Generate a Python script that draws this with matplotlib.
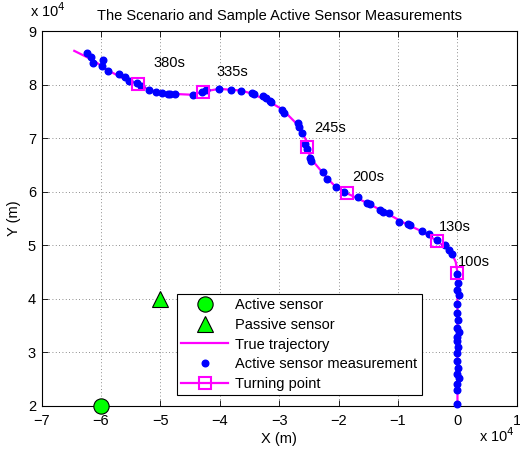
import matplotlib
matplotlib.use("Agg")
import matplotlib.pyplot as plt
from matplotlib.lines import Line2D
import numpy as np

plt.rcParams['font.family'] = ['Liberation Sans', 'DejaVu Sans']

# all positions in units of 1e4 m
traj_x = [-6.45, -6.14, -5.89, -5.58, -5.37, -5.19, -4.85, -4.46, -4.28, -4.01, -3.65,
          -3.45, -3.17, -2.95, -2.69, -2.55, -2.54, -2.47, -2.19, -2.05, -1.86, -1.54,
          -1.26, -0.87, -0.62, -0.34, -0.11, -0.03, 0.0, 0.0]
traj_y = [8.63, 8.46, 8.27, 8.09, 8.01, 7.90, 7.83, 7.81, 7.87, 7.92, 7.89,
          7.83, 7.68, 7.54, 7.25, 6.97, 6.84, 6.62, 6.25, 6.09, 5.97, 5.80,
          5.64, 5.40, 5.27, 5.08, 4.88, 4.69, 4.49, 2.0]

meas_x = [-6.23, -6.17, -6.13, -5.96, -5.98, -5.89, -5.70, -5.59, -5.53, -5.39, -5.33,
          -5.20, -5.08, -4.97, -4.88, -4.84, -4.75, -4.46, -4.30, -4.24, -4.02, -3.81,
          -3.65, -3.46, -3.42, -3.28, -3.23, -3.16, -3.14, -2.95, -2.92, -2.69, -2.67,
          -2.61, -2.56, -2.53, -2.48, -2.47, -2.27, -2.19, -2.05, -1.91, -1.68, -1.52,
          -1.47, -1.31, -1.26, -1.15, -0.98, -0.84, -0.80, -0.60, -0.48, -0.35, -0.21,
          -0.14, -0.09, 0.0, 0.01, -0.01, 0.02, 0.0, -0.01, 0.01, 0.0, 0.02, -0.01,
          0.0, 0.01, 0.0, -0.01, 0.01, 0.0, 0.02, -0.01, 0.0, 0.0]
meas_y = [8.59, 8.51, 8.40, 8.46, 8.34, 8.26, 8.20, 8.14, 8.07, 8.03, 7.98,
          7.90, 7.87, 7.85, 7.83, 7.83, 7.83, 7.80, 7.87, 7.90, 7.91, 7.90,
          7.88, 7.84, 7.83, 7.79, 7.75, 7.70, 7.68, 7.53, 7.47, 7.28, 7.21,
          7.09, 6.90, 6.79, 6.62, 6.58, 6.36, 6.23, 6.08, 6.00, 5.90, 5.79,
          5.77, 5.66, 5.63, 5.60, 5.44, 5.40, 5.38, 5.27, 5.21, 5.10, 5.00,
          4.91, 4.84, 4.47, 4.30, 4.16, 4.08, 3.91, 3.74, 3.60, 3.45, 3.38, 3.29,
          3.21, 3.10, 2.98, 2.84, 2.71, 2.60, 2.52, 2.40, 2.29, 2.03]

turn_x = [-5.37, -4.28, -2.54, -1.86, -0.34, 0.0]
turn_y = [8.01, 7.87, 6.84, 5.97, 5.08, 4.49]
turn_labels = ['380s', '335s', '245s', '200s', '130s', '100s']
label_x = [-5.11, -4.06, -2.41, -1.77, -0.31, 0.01]
label_y = [8.40, 8.24, 7.19, 6.28, 5.34, 4.69]

active_pos = (-6.0, 2.0)
passive_pos = (-5.0, 4.0)

fig = plt.figure(figsize=(5.2, 4.5), dpi=100)
ax = fig.add_axes([0.080, 0.098, 0.914, 0.833])

fs = 10.5
ax.plot(active_pos[0], active_pos[1], 'o', color='#00ff00', mec='k', mew=0.8, ms=11,
        label='Active sensor', clip_on=False, zorder=5)
ax.plot(passive_pos[0], passive_pos[1], '^', color='#00ff00', mec='k', mew=0.8, ms=11,
        label='Passive sensor', zorder=5)
ax.plot(traj_x, traj_y, '-', color='#ff00ff', lw=1.6, label='True trajectory', zorder=2)
ax.plot(meas_x, meas_y, '.', color='#0000ff', ms=9.5, label='Active sensor measurement',
        clip_on=False, zorder=3)
ax.plot(turn_x, turn_y, 's', color='#ff00ff', mfc='none', mew=1.5, ms=8, zorder=4)
for lx, ly, t in zip(label_x, label_y, turn_labels):
    ax.text(lx, ly, t, fontsize=fs, ha='left', va='center')

ax.set_xlim(-7, 1)
ax.set_ylim(2, 9)
ax.set_xticks(np.arange(-7, 2, 1))
ax.set_yticks(np.arange(2, 10, 1))
ax.set_xticklabels([str(v).replace('-', '\u2212') for v in range(-7, 2)], fontsize=fs)
ax.set_yticklabels([str(v) for v in range(2, 10)], fontsize=fs)
ax.tick_params(direction='in', top=True, right=True, length=4, width=0.6)
ax.tick_params(axis='x', pad=6)
ax.tick_params(axis='y', pad=4)
ax.grid(True, linestyle=(0, (1, 3)), color='k', lw=0.6, alpha=0.6)
for s in ax.spines.values():
    s.set_linewidth(0.8)

ax.set_xlabel('X (m)', fontsize=fs, labelpad=3)
ax.set_ylabel('Y (m)', fontsize=fs, labelpad=5)
ax.set_title('The Scenario and Sample Active Sensor Measurements', fontsize=fs, pad=8)
fig.text(0.058, 0.955, 'x 10$^4$', fontsize=fs, ha='left', va='bottom')
fig.text(0.99, 0.012, 'x 10$^4$', fontsize=fs, ha='right', va='bottom')

handles, labels = ax.get_legend_handles_labels()
handles.append(Line2D([], [], color='#ff00ff', lw=1.6, marker='s', mfc='none', mew=1.5, ms=8))
labels.append('Turning point')
leg = ax.legend(handles, labels, loc='lower left', bbox_to_anchor=(0.285, 0.029),
                fontsize=fs, fancybox=False, framealpha=1, edgecolor='k',
                handlelength=3.2, borderpad=0.3, labelspacing=0.38, borderaxespad=0,
                handletextpad=0.5, numpoints=1)
leg.get_frame().set_linewidth(0.8)
leg.set_zorder(10)

fig.savefig('out.png', dpi=100)
